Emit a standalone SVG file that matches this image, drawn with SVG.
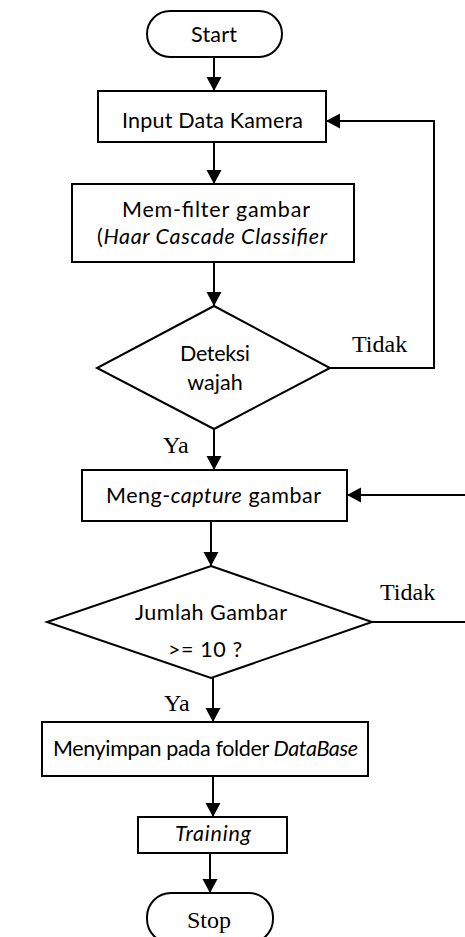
<svg xmlns="http://www.w3.org/2000/svg" width="465" height="937" viewBox="0 0 465 937">
<style>
.shape{fill:#fff;stroke:#000;stroke-width:2}
.edge{fill:none;stroke:#000;stroke-width:2}
.t{font-family:Lato,"Open Sans","Liberation Sans",sans-serif;font-size:21.5px;fill:#000;text-anchor:middle}
.tr{font-family:"Liberation Serif","Times New Roman",serif;font-size:24px;fill:#000}
.i{font-style:italic}
</style>
<defs>
<marker id="ah" markerUnits="userSpaceOnUse" markerWidth="16" markerHeight="16" refX="14" refY="7.5" orient="auto">
<path d="M0,0 L14,7.5 L0,15 Z" fill="#000"/>
</marker>
</defs>
<rect width="465" height="937" fill="#fff"/>
<g id="connectors">
<line class="edge" x1="214" y1="57" x2="214" y2="91" marker-end="url(#ah)"/>
<line class="edge" x1="214" y1="142" x2="214" y2="184" marker-end="url(#ah)"/>
<line class="edge" x1="214" y1="262" x2="214" y2="306" marker-end="url(#ah)"/>
<line class="edge" x1="214" y1="429" x2="214" y2="470" marker-end="url(#ah)"/>
<polyline class="edge" points="330,368 434,368 434,121 326,121" marker-end="url(#ah)"/>
<line class="edge" x1="211" y1="521" x2="211" y2="566" marker-end="url(#ah)"/>
<line class="edge" x1="372" y1="622" x2="465" y2="622"/>
<line class="edge" x1="465" y1="495" x2="347" y2="495" marker-end="url(#ah)"/>
<line class="edge" x1="213" y1="678" x2="213" y2="722" marker-end="url(#ah)"/>
<line class="edge" x1="213" y1="776" x2="213" y2="817" marker-end="url(#ah)"/>
<line class="edge" x1="210" y1="853" x2="210" y2="893" marker-end="url(#ah)"/>
<text class="tr" x="352" y="352">Tidak</text>
<text class="tr" x="163" y="453">Ya</text>
<text class="tr" x="380" y="600">Tidak</text>
<text class="tr" x="164" y="711">Ya</text>
</g>
<g id="start">
<rect class="shape" x="147" y="11" width="135" height="46" rx="23"/>
<text class="t" x="214" y="42" textLength="46">Start</text>
</g>
<g id="input">
<rect class="shape" x="98" y="91" width="228" height="51"/>
<text class="t" x="212.5" y="128" textLength="181">Input Data Kamera</text>
</g>
<g id="filter">
<rect class="shape" x="72" y="184" width="282" height="78"/>
<text class="t" x="216" y="217" textLength="188">Mem-filter gambar</text>
<text class="t" x="212" y="244" textLength="230">(<tspan class="i">Haar Cascade Classifier</tspan></text>
</g>
<g id="deteksi">
<polygon class="shape" points="214,306 330,368 214,429 97,368"/>
<text class="t" x="215" y="361" textLength="70">Deteksi</text>
<text class="t" x="215" y="390">wajah</text>
</g>
<g id="capture">
<rect class="shape" x="82" y="470" width="265" height="51"/>
<text class="t" x="213.5" y="503" textLength="215">Meng-<tspan class="i">capture</tspan> gambar</text>
</g>
<g id="jumlah">
<polygon class="shape" points="211,566 372,622 211,678 47,622"/>
<text class="t" x="211" y="620" textLength="152">Jumlah Gambar</text>
<text class="t" x="205" y="657" textLength="74">&gt;= 10 ?</text>
</g>
<g id="simpan">
<rect class="shape" x="42" y="722" width="326" height="54"/>
<text class="t" x="205.5" y="756" textLength="305">Menyimpan pada folder <tspan class="i">DataBase</tspan></text>
</g>
<g id="training">
<rect class="shape" x="138" y="817" width="149" height="36"/>
<text class="t i" x="213" y="841" textLength="76">Training</text>
</g>
<g id="stop">
<rect class="shape" x="147" y="893" width="126" height="50" rx="24"/>
<text class="tr" x="209" y="928" text-anchor="middle" font-size="25">Stop</text>
</g>
</svg>
